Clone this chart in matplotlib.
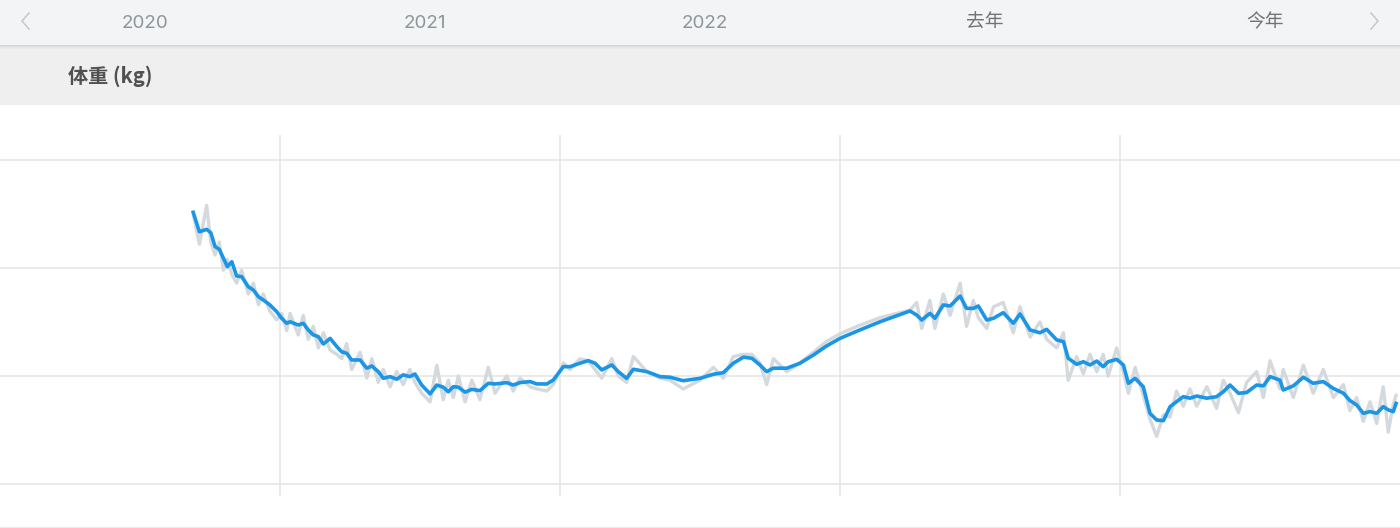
import matplotlib
matplotlib.use("Agg")
import matplotlib.pyplot as plt
from matplotlib.patches import Rectangle

plt.rcParams['font.family'] = ['Noto Sans CJK SC', 'DejaVu Sans']

# header labels
year_labels = ["2020", "2021", "2022", "去年", "今年"]
year_starts = [2020, 2021, 2022, 2023, 2024]
title = "体重 (kg)"

# horizontal grid (kg) - the app shows no labels
grid_kg = [95, 90, 85, 80]

# smoothed weight (decimal year, kg)
avg_date = [2020.690, 2020.712, 2020.738, 2020.753, 2020.768, 2020.783, 2020.798, 2020.812, 2020.828, 2020.845,
            2020.863, 2020.887, 2020.905, 2020.923, 2020.940, 2020.964, 2020.988, 2021.006, 2021.024, 2021.036,
            2021.065, 2021.083, 2021.101, 2021.119, 2021.137, 2021.155, 2021.179, 2021.203, 2021.220, 2021.238,
            2021.256, 2021.286, 2021.310, 2021.328, 2021.351, 2021.369, 2021.393, 2021.417, 2021.440, 2021.464,
            2021.482, 2021.506, 2021.536, 2021.560, 2021.583, 2021.601, 2021.619, 2021.637, 2021.661, 2021.685,
            2021.714, 2021.744, 2021.768, 2021.810, 2021.833, 2021.857, 2021.893, 2021.917, 2021.953, 2021.976,
            2022.012, 2022.036, 2022.071, 2022.101, 2022.125, 2022.149, 2022.185, 2022.208, 2022.238, 2022.262,
            2022.310, 2022.357, 2022.393, 2022.440, 2022.500, 2022.548, 2022.583, 2022.619, 2022.655, 2022.685,
            2022.714, 2022.738, 2022.762, 2022.810, 2022.857, 2022.905, 2022.952, 2023.000, 2023.071, 2023.143,
            2023.250, 2023.274, 2023.292, 2023.321, 2023.339, 2023.369, 2023.393, 2023.429, 2023.452, 2023.476,
            2023.494, 2023.524, 2023.548, 2023.583, 2023.619, 2023.643, 2023.679, 2023.714, 2023.738, 2023.774,
            2023.798, 2023.815, 2023.845, 2023.869, 2023.893, 2023.917, 2023.940, 2023.958, 2023.988, 2024.012,
            2024.030, 2024.054, 2024.083, 2024.107, 2024.131, 2024.155, 2024.179, 2024.202, 2024.226, 2024.250,
            2024.274, 2024.310, 2024.345, 2024.369, 2024.393, 2024.423, 2024.452, 2024.488, 2024.512, 2024.536,
            2024.571, 2024.583, 2024.619, 2024.655, 2024.690, 2024.726, 2024.762, 2024.798, 2024.821, 2024.845,
            2024.869, 2024.893, 2024.917, 2024.940, 2024.958, 2024.976, 2024.986]
avg_kg = [92.58, 91.68, 91.79, 91.63, 90.99, 90.87, 90.45, 90.06, 90.29, 89.63,
          89.60, 89.13, 88.98, 88.67, 88.52, 88.29, 87.98, 87.67, 87.44, 87.51,
          87.36, 87.44, 87.13, 86.90, 86.82, 86.48, 86.74, 86.36, 86.12, 86.05,
          85.74, 85.74, 85.36, 85.46, 85.20, 84.89, 84.97, 84.85, 85.05, 84.97,
          85.09, 84.58, 84.17, 84.58, 84.48, 84.27, 84.50, 84.48, 84.25, 84.38,
          84.32, 84.66, 84.63, 84.69, 84.58, 84.69, 84.74, 84.63, 84.63, 84.81,
          85.43, 85.43, 85.59, 85.71, 85.59, 85.28, 85.51, 85.20, 84.89, 85.31,
          85.20, 84.97, 84.94, 84.78, 84.89, 85.08, 85.15, 85.59, 85.87, 85.82,
          85.51, 85.20, 85.36, 85.36, 85.59, 85.97, 86.39, 86.74, 87.13, 87.51,
          88.01, 87.82, 87.59, 87.90, 87.67, 88.29, 88.24, 88.70, 88.13, 88.13,
          88.24, 87.59, 87.67, 87.93, 87.44, 87.87, 87.13, 87.00, 87.16, 86.67,
          86.59, 85.82, 85.54, 85.66, 85.51, 85.69, 85.43, 85.66, 85.77, 85.51,
          84.66, 84.89, 84.50, 83.27, 82.96, 82.93, 83.58, 83.81, 84.04, 83.97,
          84.07, 83.97, 84.04, 84.27, 84.58, 84.20, 84.23, 84.58, 84.54, 84.97,
          84.81, 84.35, 84.54, 84.94, 84.66, 84.74, 84.42, 84.20, 83.86, 83.66,
          83.27, 83.35, 83.27, 83.58, 83.43, 83.35, 83.73]

# raw daily weigh-ins (same days)
raw_kg = [92.5, 91.1, 92.9, 91.2, 90.6, 91.2, 89.9, 90.4, 89.7, 89.3,
          89.9, 88.8, 89.3, 88.3, 88.8, 88.0, 87.6, 87.9, 87.1, 87.9,
          86.9, 87.8, 86.7, 87.3, 86.3, 87.0, 86.2, 86.0, 85.8, 86.5,
          85.3, 86.1, 84.9, 85.8, 84.7, 85.3, 84.5, 85.2, 84.6, 85.3,
          84.7, 84.2, 83.8, 85.5, 83.9, 84.8, 84.0, 85.0, 83.8, 84.8,
          83.9, 85.4, 84.2, 85.0, 84.3, 84.9, 84.5, 84.4, 84.3, 84.6,
          85.6, 85.3, 85.8, 85.7, 85.3, 84.9, 85.8, 85.0, 84.7, 85.9,
          85.2, 84.9, 84.8, 84.4, 84.8, 85.4, 84.9, 85.9, 86.0, 86.0,
          85.6, 84.6, 85.8, 85.2, 85.6, 86.1, 86.6, 86.95, 87.35, 87.7,
          88.05, 88.4, 87.2, 88.5, 87.2, 88.8, 87.8, 89.3, 87.3, 88.5,
          87.7, 87.2, 88.2, 88.4, 87.0, 88.2, 86.8, 87.5, 86.7, 86.3,
          87.0, 84.8, 85.9, 85.1, 86.0, 85.2, 86.0, 85.0, 86.3, 85.2,
          84.2, 85.4, 84.1, 83.0, 82.2, 83.2, 83.1, 84.3, 83.6, 84.4,
          83.6, 84.5, 83.5, 84.8, 84.2, 83.3, 84.7, 85.2, 84.0, 85.7,
          84.4, 85.3, 84.0, 85.5, 84.2, 85.3, 84.0, 84.6, 83.4, 84.0,
          82.9, 83.8, 82.8, 84.5, 82.4, 83.7, 84.1]

W, H = 1400, 528
fig = plt.figure(figsize=(W / 100, H / 100), dpi=100)
fig.patch.set_facecolor("white")

# chart area: pixel rows 135..496
ax = fig.add_axes([0, (H - 496) / H, 1, (496 - 135) / H])
ax.set_xlim(2020, 2025)
ax.set_ylim(79.44, 96.16)
for g in grid_kg:
    ax.axhline(g, color="#e4e4e4", lw=1.1, zorder=1)
for ys in year_starts[1:]:
    ax.axvline(ys, color="#e4e4e4", lw=1.1, zorder=1)
ax.plot(avg_date, raw_kg, color="#d3d9dc", lw=2.4, zorder=2, solid_joinstyle="round")
ax.plot(avg_date, avg_kg, color="#1b95e6", lw=2.6, zorder=3, solid_joinstyle="round")
ax.axis("off")

# header and title band (pixel coords overlay)
top = fig.add_axes([0, 0, 1, 1], zorder=5)
top.set_xlim(0, W)
top.set_ylim(H, 0)
top.axis("off")
top.patch.set_alpha(0)
top.add_patch(Rectangle((0, 45), W, 60, color="#efefef", lw=0))
for i, a in enumerate([0.10, 0.06, 0.035, 0.015]):
    top.add_patch(Rectangle((0, 45 + i), W, 1, color="black", alpha=a, lw=0))
top.add_patch(Rectangle((0, 0), W, 45, color="#f2f4f5", lw=0))
top.plot([0, W], [526.5, 526.5], color="#ececec", lw=1)

for lab, ys in zip(year_labels, year_starts):
    cx = (ys - 2020 + 0.5) * W / 5 + 5
    col = "#8c9599" if lab[0].isdigit() else "#6f7477"
    top.text(cx, 23, lab, ha="center", va="center", fontsize=13.5, color=col,
             family=['Inter', 'Noto Sans CJK SC'])

top.plot([29, 22, 29], [13, 21, 29], color="#c4c8ca", lw=1.1)
top.plot([1371, 1378, 1371], [13, 21, 29], color="#c4c8ca", lw=1.1)
top.text(68, 76, title, ha="left", va="center", fontsize=14.5, color="#505050", fontweight="bold")

fig.savefig("out.png", dpi=100)
